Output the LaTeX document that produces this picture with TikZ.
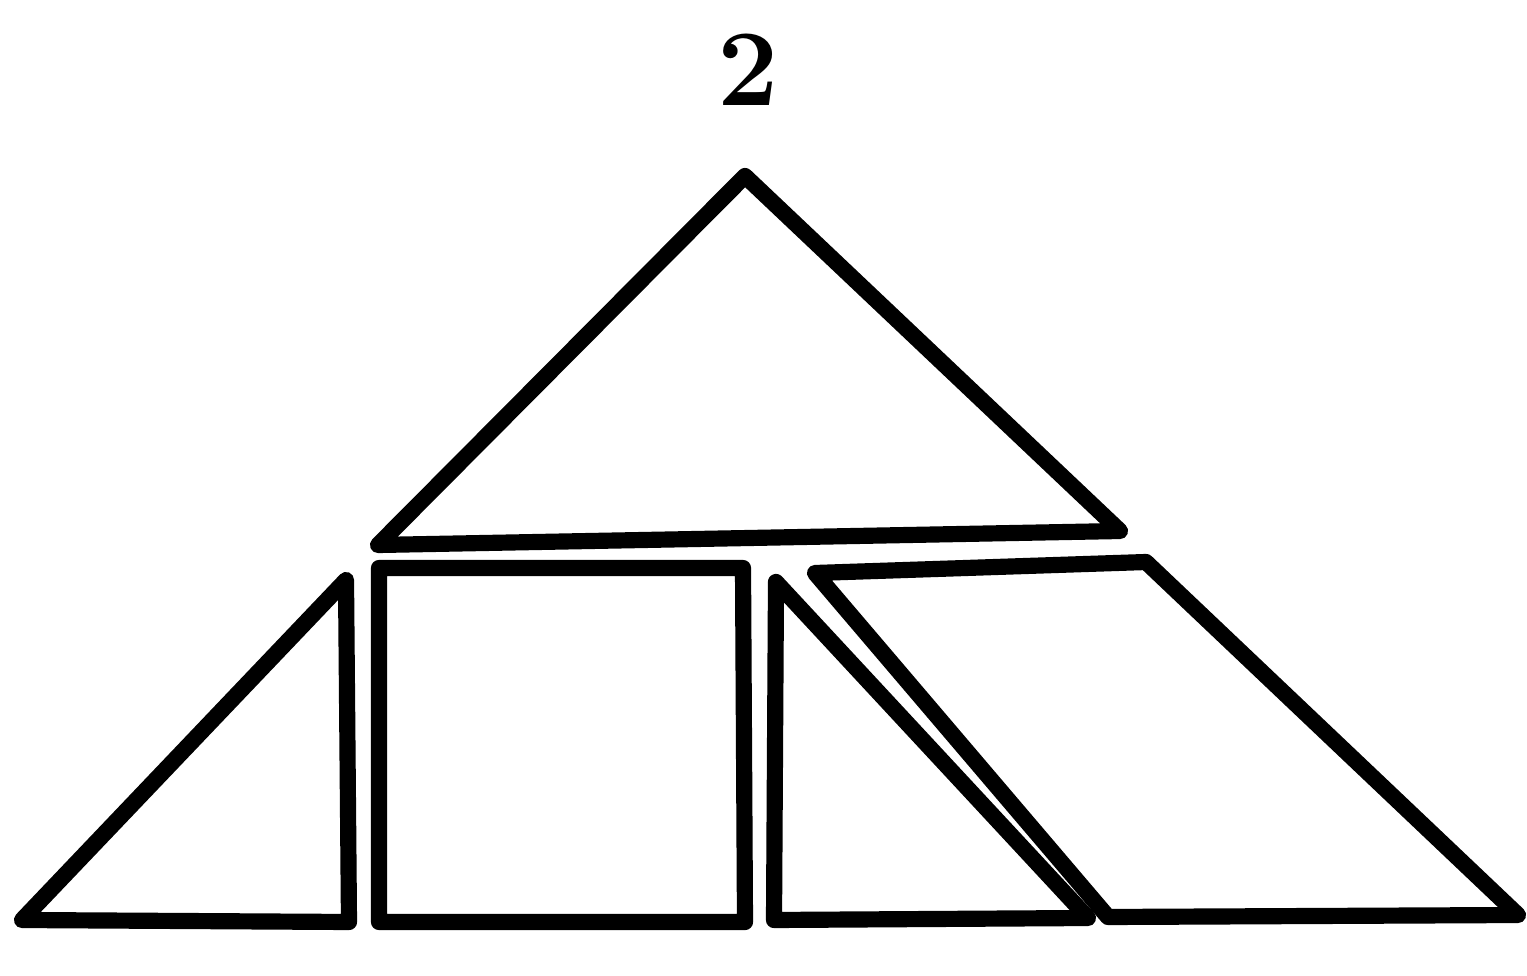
\documentclass[tikz,border=0pt]{standalone}
\usetikzlibrary{positioning}

\begin{document}
\begin{tikzpicture}[
    x=0.01cm, y=-0.01cm,
    piece/.style={draw, line width=4.6pt, line join=round},
    label/.style={font=\fontsize{31}{32}\selectfont\bfseries}
]
\useasboundingbox (0,0) rectangle (1527,976);
\node[label] (num) at (748,70) {2};

% big triangle on top
\draw[piece] (745,176) -- (1120,531) -- (378,545) -- cycle;
% lower row
\draw[piece] (346,580) -- (349,922) -- (22,920) -- cycle;
\draw[piece] (379,568) -- (743,568) -- (745,922) -- (379,922) -- cycle;
\draw[piece] (776,582) -- (1088,918) -- (774,920) -- cycle;
\draw[piece] (815,573) -- (1146,562) -- (1518,915) -- (1108,917) -- cycle;
\end{tikzpicture}
\end{document}
